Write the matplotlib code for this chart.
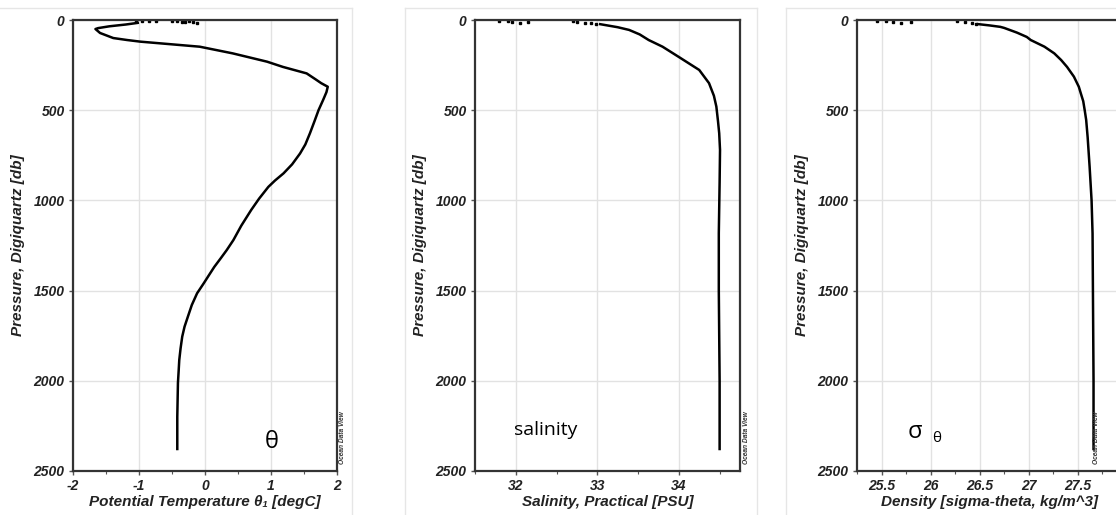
import numpy as np
import matplotlib
matplotlib.use("Agg")
import matplotlib.pyplot as plt
from matplotlib.ticker import MultipleLocator, FormatStrFormatter

plt.rcParams['font.family'] = ['Liberation Sans', 'DejaVu Sans']
plt.rcParams['axes.unicode_minus'] = False

## data read from the profiles
theta_p = [15, 25, 35, 45, 50, 72, 100, 111, 120, 148, 185, 231, 260, 296, 330, 350, 370,
           400, 443, 500, 560, 628, 690, 740, 800, 850, 890, 925, 990, 1053, 1140, 1220, 1275,
           1320, 1369, 1420, 1460, 1515, 1580, 1645, 1700, 1755, 1820, 1885, 1950, 2012, 2200,
           2385]
theta = [-1.00, -1.20, -1.45, -1.62, -1.66, -1.59, -1.39, -1.18, -0.98, -0.08, 0.42, 0.94,
         1.18, 1.54, 1.68, 1.76, 1.86, 1.84, 1.79, 1.72, 1.66, 1.59, 1.52, 1.44, 1.32, 1.19,
         1.06, 0.96, 0.82, 0.70, 0.55, 0.43, 0.33, 0.24, 0.14, 0.05, -0.02, -0.12, -0.20,
         -0.26, -0.31, -0.345, -0.37, -0.39, -0.40, -0.41, -0.42, -0.42]
theta_dots_p = [8, 8, 8, 7, 5, 6, 9, 12, 6, 10, 14]
theta_dots = [-1.05, -0.95, -0.85, -0.75, -0.50, -0.42, -0.35, -0.30, -0.25, -0.18, -0.12]

sal_p = [22, 40, 55, 80, 111, 148, 205, 277, 350, 420, 480, 560, 628, 720, 900, 1183, 1500,
         2000, 2385]
sal = [33.02, 33.25, 33.39, 33.52, 33.63, 33.80, 34.00, 34.25, 34.37, 34.43, 34.46, 34.48,
       34.495, 34.505, 34.50, 34.49, 34.49, 34.50, 34.50]
sal_dots_p = [5, 8, 12, 15, 10, 6, 12, 18, 14, 20]
sal_dots = [31.80, 31.90, 31.95, 32.05, 32.15, 32.70, 32.75, 32.85, 32.92, 32.98]

sig_p = [22, 30, 38, 44, 70, 94, 111, 148, 185, 222, 260, 314, 370, 406, 450, 500, 554, 650,
         813, 1000, 1183, 1600, 2000, 2385]
sig = [26.47, 26.60, 26.71, 26.75, 26.88, 26.98, 27.02, 27.16, 27.26, 27.33, 27.39, 27.46,
       27.51, 27.53, 27.555, 27.57, 27.585, 27.60, 27.62, 27.64, 27.65, 27.655, 27.66, 27.66]
sig_dots_p = [5, 8, 12, 15, 10, 8, 12, 16, 20]
sig_dots = [25.45, 25.55, 25.62, 25.70, 25.80, 26.27, 26.35, 26.42, 26.46]

W, H = 1116, 515
fig = plt.figure(figsize=(W / 100, H / 100), dpi=100)

def px_axes(l, r, t, b):
    return fig.add_axes([l / W, 1 - b / H, (r - l) / W, (b - t) / H])

# light panel frames
frame_col = '#e6e6e6'
for x0, x1 in [(0, 352), (405, 757), (786, 1130)]:
    fig.add_artist(plt.Line2D([x0 / W, x1 / W], [1 - 8 / H, 1 - 8 / H], color=frame_col, lw=1))
    for xx in (x0, x1):
        if 0 < xx < W:
            fig.add_artist(plt.Line2D([xx / W, xx / W], [0, 1 - 8 / H], color=frame_col, lw=1))

panels = [
    dict(box=(73, 337, 20, 471), xlim=(-2, 2), major=1, minor=0.5,
         x=theta, p=theta_p, dx=theta_dots, dp=theta_dots_p,
         xlabel='Potential Temperature θ₁ [degC]', odv=343),
    dict(box=(475, 740, 20, 471), xlim=(31.5, 34.75), major=1, minor=0.5,
         x=sal, p=sal_p, dx=sal_dots, dp=sal_dots_p,
         xlabel='Salinity, Practical [PSU]', odv=746),
    dict(box=(857, 1122, 20, 471), xlim=(25.25, 27.95), major=0.5, minor=0.25,
         x=sig, p=sig_p, dx=sig_dots, dp=sig_dots_p,
         xlabel='Density [sigma-theta, kg/m^3]', odv=1097),
]

axes = []
for pn in panels:
    ax = px_axes(*pn['box'])
    ax.plot(pn['x'], pn['p'], color='black', lw=1.8, solid_capstyle='butt',
            solid_joinstyle='round')
    ax.plot(pn['dx'], pn['dp'], 's', color='black', ms=1.5)
    ax.set_xlim(*pn['xlim'])
    ax.set_ylim(2500, 0)
    ax.xaxis.set_major_locator(MultipleLocator(pn['major']))
    ax.xaxis.set_minor_locator(MultipleLocator(pn['minor']))
    ax.xaxis.set_major_formatter(FormatStrFormatter('%g'))
    ax.yaxis.set_major_locator(MultipleLocator(500))
    ax.grid(True, which='major', color='#e2e2e2', lw=1)
    ax.set_axisbelow(True)
    for s in ax.spines.values():
        s.set_linewidth(1.6)
        s.set_color('#333333')
    ax.tick_params(which='both', direction='out', color='#555555', labelsize=10)
    ax.tick_params(which='major', length=3, width=1, pad=3)
    ax.tick_params(which='minor', length=2, width=0.8)
    for lab in ax.get_xticklabels() + ax.get_yticklabels():
        lab.set_fontweight('bold')
        lab.set_fontstyle('italic')
        lab.set_color('#222222')
    ax.set_xlabel(pn['xlabel'], fontsize=11, fontweight='bold', fontstyle='italic',
                  color='#222222', labelpad=1)
    ax.set_ylabel('Pressure, Digiquartz [db]', fontsize=11, fontweight='bold',
                  fontstyle='italic', color='#222222', labelpad=6)
    fig.text(pn['odv'] / W, 1 - 438 / H, 'Ocean Data View', rotation=90, fontsize=4.8,
             fontweight='bold', fontstyle='italic', color='#333333', ha='center', va='center')
    axes.append(ax)

# labels inside panels
fig.text(272 / W, 1 - 442 / H, 'θ', fontsize=17, family=['Open Sans', 'DejaVu Sans'],
         ha='center', va='center')
fig.text(546 / W, 1 - 430 / H, 'salinity', fontsize=14, family=['Open Sans', 'DejaVu Sans'],
         ha='center', va='center')
fig.text(915 / W, 1 - 432 / H, 'σ', fontsize=17, family=['Open Sans', 'DejaVu Sans'],
         ha='center', va='center')
fig.text(937 / W, 1 - 438 / H, 'θ', fontsize=11, family=['Open Sans', 'DejaVu Sans'],
         ha='center', va='center')

fig.savefig('out.png', dpi=100)
